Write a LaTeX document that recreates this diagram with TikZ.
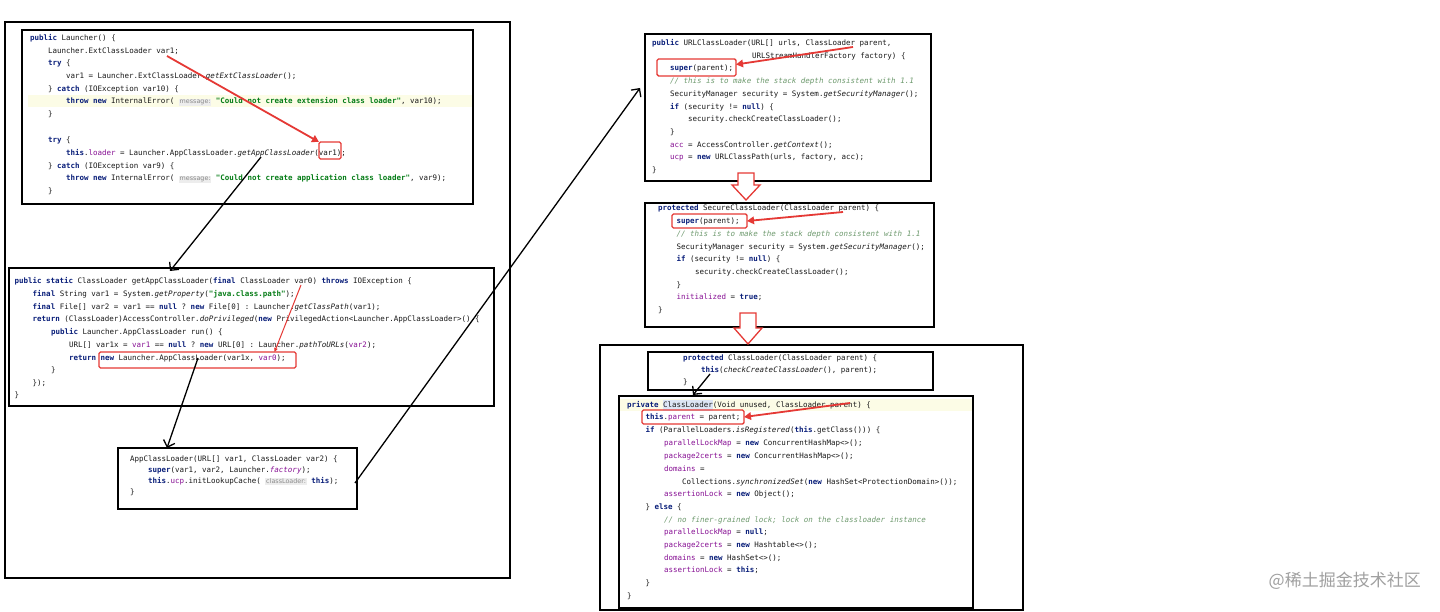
\documentclass[tikz,border=0pt]{standalone}
\usepackage{fontspec}
\setmonofont{DejaVu Sans Mono}
\newfontfamily\hintfont{DejaVu Sans}
\newfontfamily\cjkfont{Noto Sans CJK SC}
\usetikzlibrary{arrows.meta,calc}
\definecolor{kwc}{HTML}{0A1F7A}
\definecolor{strc}{HTML}{067D17}
\definecolor{fldc}{HTML}{871094}
\definecolor{cmc}{HTML}{6E9A6E}
\definecolor{codec}{HTML}{1A1A1A}
\definecolor{hintbg}{HTML}{EDEDED}
\definecolor{hintfg}{HTML}{8A8A8A}
\definecolor{redc}{HTML}{E53935}
\definecolor{hlyel}{HTML}{FCFCE6}
\definecolor{hlblue}{HTML}{DDE6F5}
\definecolor{wmc}{HTML}{A0A0A0}
\newcommand\codefont{\ttfamily\fontsize{7.5}{9}\selectfont}
\newcommand\ckw[1]{{\bfseries\color{kwc}#1}}
\newcommand\cstr[1]{{\bfseries\color{strc}#1}}
\newcommand\cfld[1]{{\color{fldc}#1}}
\newcommand\cita[1]{{\itshape #1}}
\newcommand\cfi[1]{{\itshape\color{fldc}#1}}
\newcommand\ccom[1]{{\itshape\color{cmc}#1}}
\newcommand\chint[1]{{\setlength{\fboxsep}{0.8pt}\colorbox{hintbg}{\hintfont\fontsize{6.4}{7}\selectfont\color{hintfg}#1}}}
\newcommand\codeln[3]{\node[codeline] (#1) at (#2) {#3};}
\begin{document}
\begin{tikzpicture}[x=1pt,y=-1pt,
  codebox/.style={draw=black, line width=1.6pt, fill=white, inner sep=0pt, outer sep=0pt, anchor=north west},
  codeline/.style={anchor=base west, inner sep=0pt, outer sep=0pt, yshift=-2.7pt, font=\codefont, text=codec},
  redbox/.style={draw=redc, line width=1.4pt, rounded corners=1.5pt, inner sep=0pt, outer sep=0pt, anchor=north west},
  redarr/.style={draw=redc, line width=1.8pt, -{Triangle[length=7pt,width=7.5pt]}},
  redthin/.style={draw=redc, line width=1pt, -{Triangle[length=4pt,width=3.5pt]}},
  blkarr/.style={draw=black, line width=1.3pt, -{Straight Barb[length=6pt,width=12pt,line width=1.3pt]}},
  hollow/.style={draw=redc, line width=1.3pt, fill=white, line join=miter}
]
\useasboundingbox[fill=white] (0,0) rectangle (1440,612);

% ---------- left side ----------
\node[codebox, minimum width=505pt, minimum height=556pt] (outerL) at (5,22) {};
\node[codebox, minimum width=451pt, minimum height=174pt] (box1) at (22,30) {};
\node[codebox, minimum width=485pt, minimum height=138pt] (box2) at (9,268) {};
\node[codebox, minimum width=239pt, minimum height=61pt] (box3) at (118,448) {};

\fill[hlyel] (28,95) rectangle (472,107);

\codeln{a1}{30,38}{\ckw{public} Launcher() \{}
\codeln{a2}{48,51}{Launcher.ExtClassLoader var1;}
\codeln{a3}{48,63}{\ckw{try} \{}
\codeln{a4}{66,76}{var1 = Launcher.ExtClassLoader.\cita{getExtClassLoader}();}
\codeln{a5}{48,88.5}{\} \ckw{catch} (IOException var10) \{}
\codeln{a6}{66,101}{\ckw{throw} \ckw{new} InternalError( \chint{message:} \cstr{"Could not create extension class loader"}, var10);}
\codeln{a7}{48,114}{\}}
\codeln{a8}{48,140}{\ckw{try} \{}
\codeln{a9}{66,153}{\ckw{this}.\cfld{loader} = Launcher.AppClassLoader.\cita{getAppClassLoader}(var1);}
\codeln{a10}{48,165.5}{\} \ckw{catch} (IOException var9) \{}
\codeln{a11}{66,178}{\ckw{throw} \ckw{new} InternalError( \chint{message:} \cstr{"Could not create application class loader"}, var9);}
\codeln{a12}{48,190.5}{\}}

\codeln{b1}{14.5,281}{\ckw{public} \ckw{static} ClassLoader getAppClassLoader(\ckw{final} ClassLoader var0) \ckw{throws} IOException \{}
\codeln{b2}{32.7,294}{\ckw{final} String var1 = System.\cita{getProperty}(\cstr{"java.class.path"});}
\codeln{b3}{32.7,306.5}{\ckw{final} File[] var2 = var1 == \ckw{null} ? \ckw{new} File[0] : Launcher.\cita{getClassPath}(var1);}
\codeln{b4}{32.7,319}{\ckw{return} (ClassLoader)AccessController.\cita{doPrivileged}(\ckw{new} PrivilegedAction<Launcher.AppClassLoader>() \{}
\codeln{b5}{51,332}{\ckw{public} Launcher.AppClassLoader run() \{}
\codeln{b6}{69,345}{URL[] var1x = \cfld{var1} == \ckw{null} ? \ckw{new} URL[0] : Launcher.\cita{pathToURLs}(\cfld{var2});}
\codeln{b7}{69,357.5}{\ckw{return} \ckw{new} Launcher.AppClassLoader(var1x, \cfld{var0});}
\codeln{b8}{51,370}{\}}
\codeln{b9}{32.7,382.5}{\});}
\codeln{b10}{14.5,395}{\}}

\codeln{c1}{130,459}{AppClassLoader(URL[] var1, ClassLoader var2) \{}
\codeln{c2}{148,470}{\ckw{super}(var1, var2, Launcher.\cfi{factory});}
\codeln{c3}{148,481}{\ckw{this}.\cfld{ucp}.initLookupCache( \chint{classLoader:} \ckw{this});}
\codeln{c4}{130,492}{\}}

% ---------- right side ----------
\node[codebox, minimum width=286pt, minimum height=147pt] (urlbox) at (645,34) {};
\node[codebox, minimum width=289pt, minimum height=124pt] (secbox) at (645,203) {};
\node[codebox, minimum width=423pt, minimum height=265pt] (outerR) at (600,345) {};
\node[codebox, minimum width=285pt, minimum height=38pt] (protbox) at (648,352) {};
\node[codebox, minimum width=354pt, minimum height=212pt] (privbox) at (619,396) {};

\fill[hlyel] (620,398.5) rectangle (972,411);
\fill[hlblue] (663,399.5) rectangle (713,410.5);

\codeln{d1}{652,42.5}{\ckw{public} URLClassLoader(URL[] urls, ClassLoader parent,}
\codeln{d2}{752,56}{URLStreamHandlerFactory factory) \{}
\codeln{d3}{670,68}{\ckw{super}(parent);}
\codeln{d4}{670,80.5}{\ccom{// this is to make the stack depth consistent with 1.1}}
\codeln{d5}{670,93.5}{SecurityManager security = System.\cita{getSecurityManager}();}
\codeln{d6}{670,106.5}{\ckw{if} (security != \ckw{null}) \{}
\codeln{d7}{688,119}{security.checkCreateClassLoader();}
\codeln{d8}{670,132}{\}}
\codeln{d9}{670,144.5}{\cfld{acc} = AccessController.\cita{getContext}();}
\codeln{d10}{670,157}{\cfld{ucp} = \ckw{new} URLClassPath(urls, factory, acc);}
\codeln{d11}{652,170}{\}}

\codeln{e1}{658,207.5}{\ckw{protected} SecureClassLoader(ClassLoader parent) \{}
\codeln{e2}{676.5,221}{\ckw{super}(parent);}
\codeln{e3}{676.5,233.5}{\ccom{// this is to make the stack depth consistent with 1.1}}
\codeln{e4}{676.5,246.5}{SecurityManager security = System.\cita{getSecurityManager}();}
\codeln{e5}{676.5,259}{\ckw{if} (security != \ckw{null}) \{}
\codeln{e6}{695,272}{security.checkCreateClassLoader();}
\codeln{e7}{676.5,284.5}{\}}
\codeln{e8}{676.5,297}{\cfld{initialized} = \ckw{true};}
\codeln{e9}{658,309.5}{\}}

\codeln{f1}{683,357.5}{\ckw{protected} ClassLoader(ClassLoader parent) \{}
\codeln{f2}{701,370}{\ckw{this}(\cita{checkCreateClassLoader}(), parent);}
\codeln{f3}{683,382}{\}}

\codeln{g1}{627,405}{\ckw{private} ClassLoader(Void unused, ClassLoader parent) \{}
\codeln{g2}{645.5,417}{\ckw{this}.\cfld{parent} = parent;}
\codeln{g3}{645.5,430}{\ckw{if} (ParallelLoaders.\cita{isRegistered}(\ckw{this}.getClass())) \{}
\codeln{g4}{664,443}{\cfld{parallelLockMap} = \ckw{new} ConcurrentHashMap<>();}
\codeln{g5}{664,456}{\cfld{package2certs} = \ckw{new} ConcurrentHashMap<>();}
\codeln{g6}{664,469}{\cfld{domains} =}
\codeln{g7}{682,482}{Collections.\cita{synchronizedSet}(\ckw{new} HashSet<ProtectionDomain>());}
\codeln{g8}{664,494}{\cfld{assertionLock} = \ckw{new} Object();}
\codeln{g9}{645.5,507}{\} \ckw{else} \{}
\codeln{g10}{664,520}{\ccom{// no finer-grained lock; lock on the classloader instance}}
\codeln{g11}{664,532}{\cfld{parallelLockMap} = \ckw{null};}
\codeln{g12}{664,545}{\cfld{package2certs} = \ckw{new} Hashtable<>();}
\codeln{g13}{664,558}{\cfld{domains} = \ckw{new} HashSet<>();}
\codeln{g14}{664,570}{\cfld{assertionLock} = \ckw{this};}
\codeln{g15}{645.5,583}{\}}
\codeln{g16}{627,595.5}{\}}

% ---------- red boxes ----------
\node[redbox, minimum width=22pt, minimum height=17pt] (rb1) at (319,142) {};
\node[redbox, minimum width=197pt, minimum height=16pt] (rb2) at (99,352) {};
\node[redbox, minimum width=79pt, minimum height=17pt] (rb3) at (657,59) {};
\node[redbox, minimum width=75pt, minimum height=14pt] (rb4) at (672,214) {};
\node[redbox, minimum width=102pt, minimum height=14pt] (rb5) at (642,410) {};

% ---------- red arrows ----------
\coordinate (sA) at (167,56);
\draw[redarr] (sA) -- (rb1.north west);
\coordinate (sB) at (301,285);
\draw[redthin] (sB) -- ([xshift=77pt]rb2.north);
\coordinate (sC) at (853,47);
\draw[redarr] (sC) -- ([yshift=3pt]rb3.east);
\coordinate (sD) at (843,212);
\draw[redarr] (sD) -- (rb4.east);
\coordinate (sE) at (850,403);
\draw[redarr] (sE) -- (rb5.east);

% ---------- hollow down arrows ----------
\draw[hollow] (738,173) -- (754,173) -- (754,185) -- (760,185) -- (746,200) -- (732,185) -- (738,185) -- cycle;
\draw[hollow] (740,313) -- (756,313) -- (756,328) -- (762,328) -- (748,344) -- (734,328) -- (740,328) -- cycle;

% ---------- black arrows ----------
\coordinate (sF) at (261,157);
\draw[blkarr] (sF) -- ($(box2.north west)+(161,3)$);
\coordinate (sG) at (198,358);
\draw[blkarr] (sG) -- ($(box3.north west)+(49,0)$);
\draw[blkarr] ($(box3.north east)+(-2,35)$) -- ($(urlbox.north west)+(-5,54)$);
\coordinate (sH) at (710,374);
\draw[blkarr] (sH) -- ($(privbox.north west)+(74,-1)$);

% ---------- watermark ----------
\node[font=\cjkfont\fontsize{17}{17}\selectfont, text=wmc, anchor=east, inner sep=0pt] (wm) at (1421,581) {@稀土掘金技术社区};
\end{tikzpicture}
\end{document}
